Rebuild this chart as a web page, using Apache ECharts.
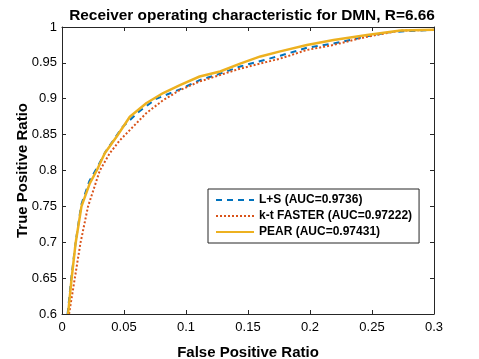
<!DOCTYPE html>
<html>
<head>
<meta charset="utf-8">
<script src="https://cdn.jsdelivr.net/npm/echarts@6/dist/echarts.min.js"></script>
<style>
  html, body { margin: 0; padding: 0; background: #fff; }
  #chart { width: 479px; height: 359px; }
</style>
</head>
<body>
<div id="chart"></div>
<script>
// ROC curves (false positive ratio, true positive ratio)
const lsFpr = [0.0045, 0.0075, 0.011, 0.0155, 0.022, 0.028, 0.035, 0.049, 0.062, 0.076, 0.095, 0.111, 0.1275, 0.1437, 0.176, 0.1975, 0.219, 0.246, 0.265, 0.3];
const lsTpr = [0.6, 0.65, 0.70, 0.752, 0.785, 0.803, 0.826, 0.861, 0.882, 0.90, 0.913, 0.926, 0.935, 0.945, 0.96, 0.971, 0.977, 0.987, 0.993, 0.996];

const ktFpr = [0.0057, 0.0149, 0.021, 0.0305, 0.0385, 0.0466, 0.068, 0.0816, 0.095, 0.111, 0.1437, 0.176, 0.1975, 0.219, 0.246, 0.273, 0.3];
const ktTpr = [0.6, 0.699, 0.75, 0.80, 0.824, 0.842, 0.880, 0.898, 0.912, 0.924, 0.942, 0.956, 0.968, 0.975, 0.9865, 0.995, 0.996];

const pearFpr = [0.0049, 0.0076, 0.011, 0.0157, 0.0224, 0.028, 0.0345, 0.044, 0.0547, 0.0682, 0.0816, 0.0951, 0.111, 0.1275, 0.1437, 0.160, 0.176, 0.1975, 0.219, 0.246, 0.273, 0.3];
const pearTpr = [0.6, 0.647, 0.699, 0.75, 0.782, 0.80, 0.824, 0.847, 0.875, 0.894, 0.908, 0.919, 0.931, 0.938, 0.949, 0.959, 0.966, 0.975, 0.982, 0.989, 0.995, 0.996];

const seriesNames = ["L+S (AUC=0.9736)", "k-t FASTER (AUC=0.97222)", "PEAR (AUC=0.97431)"];
const xTicks = [0, 0.05, 0.1, 0.15, 0.2, 0.25, 0.3];
const yTicks = [0.6, 0.65, 0.7, 0.75, 0.8, 0.85, 0.9, 0.95, 1];

const font = "Liberation Sans, Arial, sans-serif";
const ink = "#262626";
const pair = (xs, ys) => xs.map((x, i) => [x, ys[i]]);
const fmt = v => String(parseFloat(v.toFixed(2)));

const chart = echarts.init(document.getElementById("chart"));

const axisBase = {
  type: "value",
  axisLine: { show: true, onZero: false, lineStyle: { color: ink, width: 1 } },
  axisTick: { show: true, inside: true, length: 4, lineStyle: { color: ink } },
  splitLine: { show: false }
};

const option = {
  animation: false,
  color: ["#0072BD", "#D95319", "#EDB120"],
  title: {
    text: "Receiver operating characteristic for DMN, R=6.66",
    left: 247, top: 3, textAlign: "center",
    textStyle: { fontFamily: font, fontSize: 15.4, fontWeight: "bold", color: "#000" }
  },
  grid: { left: 62, right: 45, top: 27, bottom: 45, outerBoundsMode: "none" },
  legend: {
    orient: "vertical", left: 208, top: 189,
    padding: [5, 7, 5, 7],
    itemGap: 4, itemWidth: 38, itemHeight: 10,
    borderColor: ink, borderWidth: 1, backgroundColor: "#fff",
    itemStyle: { opacity: 0 },
    textStyle: { fontFamily: font, fontSize: 12, fontWeight: "bold", color: "#000" },
    data: seriesNames
  },
  xAxis: [
    Object.assign({}, axisBase, {
      min: xTicks[0], max: xTicks[xTicks.length - 1], interval: 0.05,
      position: "bottom",
      name: "False Positive Ratio", nameLocation: "middle", nameGap: 31,
      nameTextStyle: { fontFamily: font, fontSize: 15, fontWeight: "bold", color: "#000" },
      axisLabel: { fontFamily: font, fontSize: 13, color: "#000", margin: 7, formatter: fmt }
    }),
    Object.assign({}, axisBase, {
      min: xTicks[0], max: xTicks[xTicks.length - 1], interval: 0.05,
      position: "top", axisLabel: { show: false }
    })
  ],
  yAxis: [
    Object.assign({}, axisBase, {
      min: yTicks[0], max: yTicks[yTicks.length - 1], interval: 0.05,
      position: "left",
      name: "True Positive Ratio", nameLocation: "middle", nameGap: 32,
      nameMoveOverlap: false,
      nameTextStyle: { fontFamily: font, fontSize: 15, fontWeight: "bold", color: "#000" },
      axisLabel: { fontFamily: font, fontSize: 13, color: "#000", margin: 5, formatter: fmt }
    }),
    Object.assign({}, axisBase, {
      min: yTicks[0], max: yTicks[yTicks.length - 1], interval: 0.05,
      position: "right", axisLabel: { show: false }
    })
  ],
  series: [
    {
      name: seriesNames[0], type: "line", showSymbol: false, symbol: "none",
      data: pair(lsFpr, lsTpr),
      lineStyle: { width: 2, type: [6, 5], color: "#0072BD" }
    },
    {
      name: seriesNames[1], type: "line", showSymbol: false, symbol: "none",
      data: pair(ktFpr, ktTpr),
      lineStyle: { width: 2, type: [2, 2], color: "#D95319" }
    },
    {
      name: seriesNames[2], type: "line", showSymbol: false, symbol: "none",
      data: pair(pearFpr, pearTpr),
      lineStyle: { width: 2.5, type: "solid", color: "#EDB120" }
    }
  ]
};

chart.setOption(option);
window.addEventListener("resize", () => chart.resize());
</script>
</body>
</html>
